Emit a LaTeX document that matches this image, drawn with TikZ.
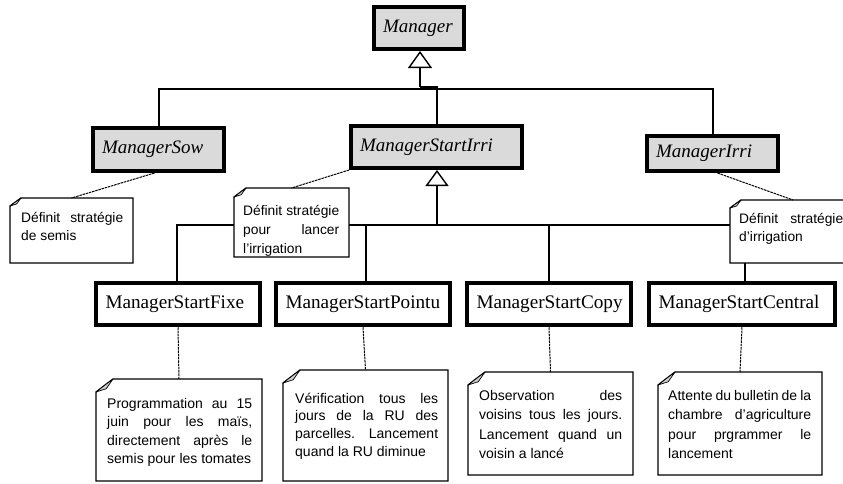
\documentclass[tikz,border=0pt]{standalone}
\usepackage{fontspec}
\setmainfont{Liberation Serif}
\setsansfont{Liberation Sans}
\usetikzlibrary{arrows.meta,calc}
\definecolor{clsgray}{RGB}{218,218,218}
\definecolor{foldgray}{RGB}{205,205,205}
\def\jw{100pt}
\newcommand\jline[1]{{\spaceskip=0pt\xspaceskip=0pt\makebox[\jw][s]{#1}}}
\newcommand\lline[1]{{\spaceskip=0pt\xspaceskip=0pt\makebox[\jw][l]{#1}}}
\newcommand\umlnoteframe[3]{%
  \draw[noteline] ([yshift=-#3pt]#1.north west) -- ([xshift=#2pt]#1.north west) -- (#1.north east) -- (#1.south east) -- (#1.south west) -- cycle;
  \filldraw[line width=0.7pt, line join=round, fill=foldgray] ([yshift=-#3pt]#1.north west) -- ([xshift=#2pt]#1.north west) -- ([xshift=0.6*#2pt, yshift=-0.75*#3pt]#1.north west) -- cycle;}
\tikzset{
  absclass/.style={draw, line width=4pt, fill=clsgray, align=left, inner xsep=9pt, inner ysep=0pt,
    font=\fontsize{19}{22}\selectfont\itshape},
  conclass/.style={draw, line width=4.5pt, fill=white, align=left, inner xsep=9.5pt, inner ysep=0pt,
    font=\fontsize{19.2}{22}\selectfont},
  link/.style={line width=1.4pt},
  botlink/.style={line width=2pt},
  inherit/.style={-{Triangle[open, length=17pt, width=24pt]}},
  notelink/.style={line width=1pt, dash pattern=on 2.5pt off 0.8pt},
  noteline/.style={line width=1.3pt, line join=miter},
  notebox/.style={fill=white, inner sep=0pt, outer sep=0pt},
  notetext/.style={inner sep=0pt, align=left, anchor=base west, text width=#1,
    execute at begin node={\def\jw{#1}}},
  smallnote/.style={font=\sffamily\fontsize{13.8}{18}\selectfont},
  bignote/.style={font=\sffamily\fontsize{14}{18.5}\selectfont}
}
\begin{document}
\begin{tikzpicture}[x=1pt, y=-1pt]
\useasboundingbox (0,0) rectangle (843,483);
\fill[white] (0,0) rectangle (843,483);
\clip (0,0) rectangle (843,483);

% classes
\node[absclass, minimum width=90pt, minimum height=42pt, text width=72pt] (manager) at (419,28) {Manager};
\node[absclass, minimum width=131pt, minimum height=43pt, text width=113pt] (sow) at (158.5,149.5) {ManagerSow};
\node[absclass, minimum width=171pt, minimum height=42pt, text width=153pt] (startirri) at (436.5,147) {ManagerStartIrri};
\node[absclass, minimum width=131pt, minimum height=35pt, text width=113pt] (irri) at (712.5,153.5) {ManagerIrri};

\node[conclass, minimum width=164pt, minimum height=42pt, text width=145pt] (fixe) at (178,304) {ManagerStartFixe};
\node[conclass, minimum width=174pt, minimum height=42pt, text width=155pt] (pointu) at (363,304) {ManagerStartPointu};
\node[conclass, minimum width=164pt, minimum height=42pt, text width=145pt] (copy) at (549,304) {ManagerStartCopy};
\node[conclass, minimum width=186pt, minimum height=42pt, text width=167pt] (central) at (742,304) {ManagerStartCentral};

% inheritance from Manager
\coordinate (hL) at (159,89);
\coordinate (hR) at (713,89);
\coordinate (hM) at (420,87);
\coordinate (hJ) at (437,87);
\draw[link] (sow.north -| hL) -- (hL) -- (hR) -- (irri.north -| hR);
\draw[link] (startirri.north -| hJ) -- (hJ) -- (hM);
\draw[link, inherit] (hM) -- (hM |- manager.south);

% inheritance from ManagerStartIrri
\coordinate (bL) at (177,225);
\coordinate (bR) at (745,225);
\coordinate (bP) at (366,225);
\coordinate (bC) at (549,225);
\coordinate (bJ) at (437,225);
\draw[botlink] (fixe.north -| bL) -- (bL) -- (bR) -- (central.north -| bR);
\draw[botlink] (bP) -- (pointu.north -| bP);
\draw[botlink] (bC) -- (copy.north -| bC);
\draw[link, -{Triangle[open, length=16pt, width=23pt]}] (bJ) -- (bJ |- startirri.south);

% notes, upper row
\node[notebox, minimum width=123pt, minimum height=65pt] (n1) at (71.5,230.5) {};
\umlnoteframe{n1}{11}{8}
\node[notetext=102pt, smallnote] (n1t) at ([xshift=11pt, yshift=-24pt]n1.north west)
  {\jline{Définit stratégie}\\\lline{de semis}};

\node[notebox, minimum width=115pt, minimum height=69pt] (n2) at (291.5,222.5) {};
\umlnoteframe{n2}{12}{9}
\node[notetext=96pt, font=\sffamily\fontsize{13.8}{19}\selectfont] (n2t) at ([xshift=9pt, yshift=-27pt]n2.north west)
  {\jline{Définit stratégie}\\\jline{pour lancer}\\\lline{l’irrigation}};

\node[notebox, minimum width=126pt, minimum height=63pt] (n3) at (793,231.5) {};
\umlnoteframe{n3}{11}{8}
\node[notetext=104pt, smallnote] (n3t) at ([xshift=9pt, yshift=-23pt]n3.north west)
  {\jline{Définit stratégie}\\\lline{d’irrigation}};

% notes, lower row
\node[notebox, minimum width=166pt, minimum height=102pt] (nA) at (179,430) {};
\umlnoteframe{nA}{17}{13}
\node[notetext=145pt, bignote] (nAt) at ([xshift=11pt, yshift=-29pt]nA.north west)
  {\jline{Programmation au 15}\\\jline{juin pour les maïs,}\\\jline{directement après le}\\\lline{semis pour les tomates}};

\node[notebox, minimum width=165pt, minimum height=111pt] (nB) at (365.5,425.5) {};
\umlnoteframe{nB}{17}{13}
\node[notetext=143pt, font=\sffamily\fontsize{14}{17.8}\selectfont] (nBt) at ([xshift=12pt, yshift=-33pt]nB.north west)
  {\jline{Vérification tous les}\\\jline{jours de la RU des}\\\jline{parcelles. Lancement}\\\lline{quand la RU diminue}};

\node[notebox, minimum width=165pt, minimum height=103pt] (nC) at (550.5,423.5) {};
\umlnoteframe{nC}{17}{13}
\node[notetext=143pt, font=\sffamily\fontsize{14}{19.5}\selectfont] (nCt) at ([xshift=11pt, yshift=-28pt]nC.north west)
  {\jline{Observation des}\\\jline{voisins tous les jours.}\\\jline{Lancement quand un}\\\lline{voisin a lancé}};

\node[notebox, minimum width=164pt, minimum height=103pt] (nD) at (740,423.5) {};
\umlnoteframe{nD}{17}{13}
\node[notetext=143pt, font=\sffamily\fontsize{14}{19.5}\selectfont] (nDt) at ([xshift=10pt, yshift=-28pt]nD.north west)
  {\jline{Attente du bulletin de la}\\\jline{chambre d’agriculture}\\\jline{pour prgrammer le}\\\lline{lancement}};

% note links
\draw[notelink] ([xshift=-4pt]sow.south) -- (n1.north);
\draw[notelink] (startirri.south west) -- (n2.north);
\draw[notelink] ([xshift=5pt]irri.south) -- (n3.north);
\draw[notelink] (fixe.south) -- (nA.north);
\draw[notelink] (pointu.south) -- (nB.north);
\draw[notelink] (copy.south) -- (nC.north);
\draw[notelink] (central.south) -- (nD.north);
\end{tikzpicture}
\end{document}
